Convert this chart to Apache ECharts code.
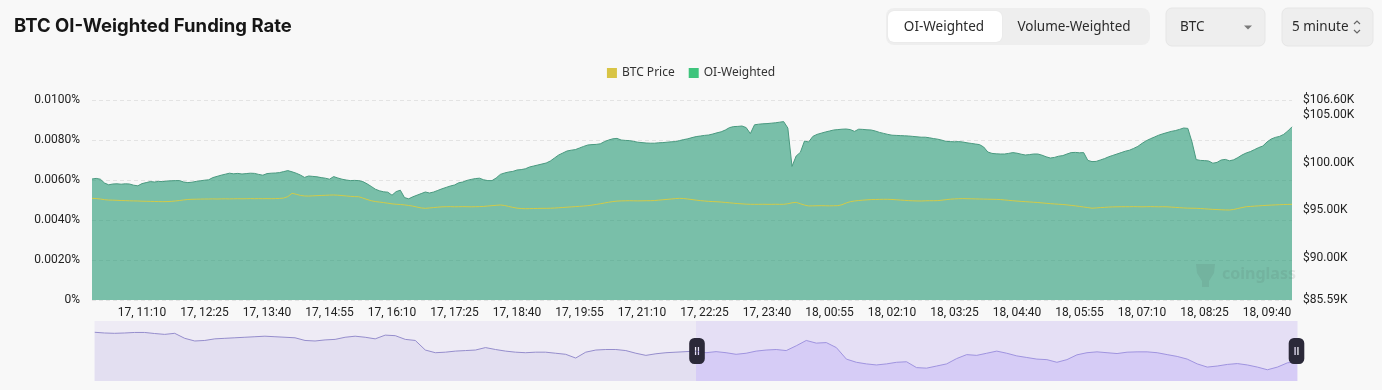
<!DOCTYPE html>
<html>
<head>
<meta charset="utf-8">
<script src="https://cdn.jsdelivr.net/npm/echarts@6/dist/echarts.min.js"></script>
<style>
  html, body { margin: 0; padding: 0; background: #f8f8f8; }
  #chart { width: 1382px; height: 390px; }
</style>
</head>
<body>
<div id="chart"></div>
<script>
// ---- time axis (5-minute steps) ----
const START_DAY = 17;
const START_MINUTE = 10 * 60 + 10;   // 17, 10:10
const STEP_MINUTES = 5;
const X_LABEL_FIRST = 12;            // 17, 11:10
const X_LABEL_EVERY = 15;            // every 75 minutes

// ---- OI-weighted funding rate (%) ----
const OI_WEIGHTED = [
0.00605,0.00608,0.00604,0.00585,0.00576,0.00580,0.00581,0.00579,0.00581,0.00580,
0.00574,0.00571,0.00582,0.00587,0.00592,0.00590,0.00593,0.00592,0.00595,
0.00596,0.00597,0.00597,0.00590,0.00587,0.00589,0.00593,0.00596,0.00599,0.00601,
0.00612,0.00618,0.00624,0.00629,0.00634,0.00631,0.00633,0.00630,0.00632,0.00634,
0.00633,0.00628,0.00624,0.00632,0.00634,0.00635,0.00637,0.00642,0.00647,0.00641,
0.00634,0.00625,0.00613,0.00620,0.00618,0.00616,0.00612,0.00609,0.00604,0.00617,
0.00610,0.00604,0.00600,0.00597,0.00598,0.00597,0.00592,0.00581,0.00568,0.00554,
0.00546,0.00541,0.00539,0.00524,0.00542,0.00549,0.00512,0.00506,0.00516,0.00524,
0.00532,0.00540,0.00535,0.00540,0.00548,0.00556,0.00563,0.00570,0.00575,0.00586,
0.00590,0.00598,0.00603,0.00607,0.00609,0.00601,0.00597,0.00597,0.00610,0.00628,
0.00635,0.00640,0.00643,0.00650,0.00652,0.00656,0.00665,0.00670,0.00675,0.00680,
0.00685,0.00695,0.00710,0.00725,0.00735,0.00745,0.00749,0.00752,0.00760,0.00768,
0.00775,0.00777,0.00778,0.00781,0.00792,0.00800,0.00806,0.00808,0.00800,0.00798,
0.00797,0.00793,0.00789,0.00787,0.00785,0.00784,0.00784,0.00786,0.00787,0.00789,
0.00791,0.00792,0.00797,0.00802,0.00806,0.00812,0.00817,0.00820,0.00823,0.00825,
0.00830,0.00836,0.00841,0.00850,0.00862,0.00867,0.00868,0.00870,0.00862,0.00832,
0.00876,0.00879,0.00881,0.00882,0.00884,0.00886,0.00889,0.00892,0.00860,0.00668,
0.00720,0.00738,0.00795,0.00790,0.00818,0.00828,0.00834,0.00840,0.00845,0.00850,
0.00852,0.00854,0.00855,0.00852,0.00843,0.00854,0.00853,0.00851,0.00850,0.00845,
0.00838,0.00833,0.00828,0.00824,0.00823,0.00822,0.00821,0.00820,0.00818,0.00816,
0.00814,0.00814,0.00811,0.00807,0.00804,0.00799,0.00793,0.00792,0.00791,
0.00792,0.00790,0.00786,0.00783,0.00780,0.00777,0.00765,0.00740,0.00733,0.00731,
0.00730,0.00730,0.00733,0.00737,0.00734,0.00729,0.00725,0.00727,0.00730,0.00730,
0.00724,0.00716,0.00710,0.00713,0.00719,0.00722,0.00730,0.00737,0.00738,0.00736,
0.00737,0.00698,0.00692,0.00693,0.00700,0.00707,0.00716,0.00723,0.00730,0.00737,
0.00744,0.00749,0.00758,0.00768,0.00783,0.00796,0.00806,0.00815,0.00824,0.00831,
0.00837,0.00843,0.00847,0.00853,0.00860,0.00858,0.00790,0.00702,0.00698,0.00697,
0.00695,0.00684,0.00688,0.00700,0.00703,0.00696,0.00701,0.00712,0.00725,0.00735,
0.00742,0.00752,0.00762,0.00770,0.00790,0.00805,0.00813,0.00818,0.00828,0.00845,0.00866
];

// ---- BTC price (USD) ----
const BTC_PRICE = [
96270,96250,96200,96130,96090,96080,96060,96040,96030,96010,
96000,95990,95970,95960,95950,95940,95930,95920,95930,
95950,95990,96040,96100,96150,96170,96180,96190,96200,96200,
96210,96200,96210,96220,96210,96220,96230,96220,96230,96240,
96230,96240,96230,96240,96230,96240,96260,96300,96450,96800,
96700,96580,96520,96510,96530,96550,96570,96590,96610,96620,
96600,96560,96520,96480,96450,96440,96300,96150,96020,95930,
95880,95820,95760,95690,95650,95620,95580,95520,95450,95350,
95260,95220,95260,95300,95340,95380,95390,95400,95380,95390,
95400,95390,95380,95390,95400,95420,95460,95500,95540,95570,
95520,95420,95320,95240,95200,95180,95190,95200,95210,95220,
95220,95230,95250,95280,95310,95340,95370,95400,95430,95460,
95500,95560,95630,95700,95780,95860,95930,95980,96000,96010,
96020,96010,96000,96010,96020,96020,96040,96080,96120,96160,
96200,96240,96270,96250,96200,96140,96080,96030,95990,95950,
95930,95910,95880,95840,95800,95760,95720,95690,95660,95645,
95640,95640,95650,95640,95640,95650,95640,95645,95700,95800,
95850,95700,95560,95470,95480,95490,95500,95490,95480,95490,
95500,95600,95780,95920,95990,96040,96080,96110,96140,96150,
96160,96170,96168,96150,96120,96090,96060,96030,96010,95995,
95990,96010,96020,96020,96030,96080,96130,96180,96210,
96230,96240,96230,96220,96210,96200,96190,96180,96170,96160,
96140,96100,96060,96020,95980,95950,95920,95890,95860,95830,
95790,95750,95710,95680,95650,95620,95580,95530,95480,95420,
95360,95300,95230,95260,95300,95320,95350,95370,95380,95390,
95390,95390,95400,95390,95380,95390,95400,95390,95380,95390,
95380,95350,95320,95290,95260,95240,95230,95225,95200,95170,
95140,95110,95090,95070,95050,95045,95100,95200,95300,95390,
95420,95450,95480,95510,95540,95560,95580,95600,95620,95630,95643
];

// ---- navigator (data-zoom overview, 48 h) ----
const NAV_PRICE = [
106570,106500,106470,106500,106550,106550,106450,106370,106470,106000,
105750,105800,105950,106000,106050,106100,106150,106200,106150,106100,
106050,105800,105750,105850,105900,106100,106200,106100,105950,106300,
106250,105900,105800,104900,104650,104700,104800,104850,104900,105130,
104950,104800,104700,104650,104700,104700,104600,104500,104150,104700,
104900,104950,104950,104850,104600,104400,104550,104650,104700,104750,
104800,104650,104750,104650,104500,104600,104800,104900,104950,104850,
105300,105800,105550,105600,105130,104050,103750,103600,103500,103600,
103750,103800,103250,103200,103400,103600,104100,104470,104400,104600,
104800,104600,104350,104200,104050,104000,103750,104000,104450,104650,
104730,104650,104570,104700,104730,104730,104650,104470,104300,104050,
103600,103300,103400,103550,103630,103500,103300,103050,103300,103700,103800
];
const ZOOM_START = 50, ZOOM_END = 100;

// ---- axis ticks ----
const LEFT_MIN = 0, LEFT_MAX = 0.01, LEFT_INTERVAL = 0.002;
const RIGHT_MIN = 85590, RIGHT_MAX = 106600;
const RIGHT_TICKS = [85590, 90000, 95000, 100000, 105000, 106600];

const pad = n => String(n).padStart(2, '0');
const CATEGORIES = OI_WEIGHTED.map((_, i) => {
  const t = START_MINUTE + i * STEP_MINUTES;
  const day = START_DAY + Math.floor(t / 1440);
  const m = t % 1440;
  return day + ', ' + pad(Math.floor(m / 60)) + ':' + pad(m % 60);
});
const NAV_CATEGORIES = NAV_PRICE.map((_, i) => i);

const AXIS_FONT = 'Roboto';
const UI_FONT = '"Noto Sans", "Open Sans", sans-serif';

const chart = echarts.init(document.getElementById('chart'), null, { renderer: 'canvas' });

const option = {
  animation: false,
  backgroundColor: '#f8f8f8',
  title: {
    text: 'BTC OI-Weighted Funding Rate',
    left: 14, top: 17, padding: 0,
    textStyle: { fontFamily: 'Inter', fontWeight: 700, fontSize: 18.5, color: '#161616' }
  },
  legend: {
    data: ['BTC Price', 'OI-Weighted'],
    top: 62, left: 'center',
    icon: 'rect', itemWidth: 10, itemHeight: 10, itemGap: 14,
    textStyle: { fontFamily: UI_FONT, fontSize: 12, color: '#333' }
  },
  grid: [
    { left: 92, right: 90, top: 100, bottom: 90, containLabel: false },
    { left: 92, right: 87, top: 321, height: 60, show: false }
  ],
  xAxis: [
    {
      type: 'category', gridIndex: 0, data: CATEGORIES, boundaryGap: false,
      axisLine: { show: false }, axisTick: { show: false },
      axisLabel: {
        interval: (idx) => idx % X_LABEL_EVERY === X_LABEL_FIRST,
        fontFamily: AXIS_FONT, fontSize: 12, color: '#222', margin: 7
      },
      splitLine: { show: false }
    },
    { type: 'category', gridIndex: 1, data: NAV_CATEGORIES, boundaryGap: false, show: false }
  ],
  yAxis: [
    {
      type: 'value', gridIndex: 0, min: LEFT_MIN, max: LEFT_MAX, interval: LEFT_INTERVAL,
      axisLine: { show: false }, axisTick: { show: false },
      axisLabel: {
        fontFamily: AXIS_FONT, fontSize: 12, color: '#222', margin: 12,
        formatter: v => v === 0 ? '0%' : v.toFixed(4) + '%'
      },
      splitLine: { show: true, lineStyle: { color: '#e3e3e3', type: [4, 3], width: 1 } }
    },
    {
      type: 'value', gridIndex: 0, position: 'right', min: RIGHT_MIN, max: RIGHT_MAX,
      axisLine: { show: false }, axisTick: { show: false },
      axisLabel: {
        customValues: RIGHT_TICKS,
        fontFamily: AXIS_FONT, fontSize: 12, color: '#222', margin: 11,
        formatter: v => '$' + (v / 1000).toFixed(2) + 'K'
      },
      splitLine: { show: false }
    },
    { type: 'value', gridIndex: 1, show: false, scale: true }
  ],
  dataZoom: [{
    type: 'slider', xAxisIndex: 1, start: ZOOM_START, end: ZOOM_END,
    left: 92, right: 87, top: 321, height: 60,
    backgroundColor: '#eeebf5', borderColor: 'transparent',
    fillerColor: 'rgba(167,140,250,0.12)',
    showDetail: false, brushSelect: false, moveHandleSize: 0, zoomLock: false,
    dataBackground: {
      lineStyle: { color: '#958dcc', width: 1, opacity: 1 },
      areaStyle: { color: '#e3dff1', opacity: 1 }
    },
    selectedDataBackground: {
      lineStyle: { color: '#9f95dc', width: 1, opacity: 1 },
      areaStyle: { color: '#ddd5f6', opacity: 1 }
    },
    handleIcon: 'path://M4,0 H8 A4,4 0 0 1 12,4 V16 A4,4 0 0 1 8,20 H4 A4,4 0 0 1 0,16 V4 A4,4 0 0 1 4,0 Z M4.4,7 V13 H5.4 V7 Z M6.6,7 V13 H7.6 V7 Z',
    handleSize: 26,
    handleStyle: { color: '#2b2939', borderColor: '#2b2939', borderWidth: 0, shadowBlur: 0 },
    emphasis: { handleStyle: { color: '#2b2939', borderColor: '#2b2939', shadowBlur: 0 } }
  }],
  series: [
    {
      name: 'OI-Weighted', type: 'line', xAxisIndex: 0, yAxisIndex: 0,
      data: OI_WEIGHTED, showSymbol: false, symbol: 'none',
      itemStyle: { color: '#3ec47c' },
      lineStyle: { color: '#4a9a80', width: 1 },
      areaStyle: { color: 'rgba(30,150,112,0.58)', opacity: 1, origin: 'start' },
      z: 2
    },
    {
      name: 'BTC Price', type: 'line', xAxisIndex: 0, yAxisIndex: 1,
      data: BTC_PRICE, showSymbol: false, symbol: 'none',
      itemStyle: { color: '#d8c445' },
      lineStyle: { color: '#d2cb48', width: 1 },
      z: 3
    },
    {
      name: 'nav', type: 'line', xAxisIndex: 1, yAxisIndex: 2,
      data: NAV_PRICE, showSymbol: false, symbol: 'none', silent: true,
      lineStyle: { opacity: 0 }, itemStyle: { opacity: 0 }
    }
  ],
  graphic: [
    // watermark
    { type: 'text', silent: true, z: 5, style: { text: 'coinglass', x: 1222, y: 274, align: 'left', verticalAlign: 'middle', font: 'bold 16px "Noto Sans"', fill: 'rgba(80,100,90,0.13)' } },
    { type: 'polygon', silent: true, z: 5, shape: { points: [[1196,264],[1215,264],[1214,273],[1209,281],[1209,287],[1202,287],[1202,281],[1197,273]] }, style: { fill: 'rgba(80,100,90,0.13)' } },
    // segmented control
    { type: 'rect', shape: { x: 886, y: 8, width: 264, height: 37, r: 8 }, style: { fill: '#eeeeee' } },
    { type: 'rect', shape: { x: 888, y: 11, width: 114, height: 31, r: 6 }, style: { fill: '#ffffff', shadowBlur: 2, shadowColor: 'rgba(0,0,0,0.06)' } },
    { type: 'text', style: { text: 'OI-Weighted', x: 944, y: 27, align: 'center', verticalAlign: 'middle', font: '13.5px ' + UI_FONT, fill: '#2b2b2b' } },
    { type: 'text', style: { text: 'Volume-Weighted', x: 1074, y: 27, align: 'center', verticalAlign: 'middle', font: '13.5px ' + UI_FONT, fill: '#2b2b2b' } },
    // BTC select
    { type: 'rect', shape: { x: 1166, y: 8, width: 99, height: 38, r: 6 }, style: { fill: '#eeeeee', stroke: '#e6e6e6', lineWidth: 1 } },
    { type: 'text', style: { text: 'BTC', x: 1180, y: 27, align: 'left', verticalAlign: 'middle', font: '13.5px ' + UI_FONT, fill: '#2b2b2b' } },
    { type: 'polygon', shape: { points: [[1244, 25.5], [1252, 25.5], [1248, 29.5]] }, style: { fill: '#7a7a7a' } },
    // interval select
    { type: 'rect', shape: { x: 1282, y: 8, width: 91, height: 38, r: 6 }, style: { fill: '#eeeeee', stroke: '#e6e6e6', lineWidth: 1 } },
    { type: 'text', style: { text: '5 minute', x: 1292, y: 27, align: 'left', verticalAlign: 'middle', font: '13.5px ' + UI_FONT, fill: '#2b2b2b' } },
    { type: 'polyline', shape: { points: [[1354, 24], [1357, 21], [1360, 24]] }, style: { stroke: '#666', lineWidth: 1.2, fill: null } },
    { type: 'polyline', shape: { points: [[1354, 30], [1357, 33], [1360, 30]] }, style: { stroke: '#666', lineWidth: 1.2, fill: null } }
  ]
};

chart.setOption(option);
</script>
</body>
</html>
